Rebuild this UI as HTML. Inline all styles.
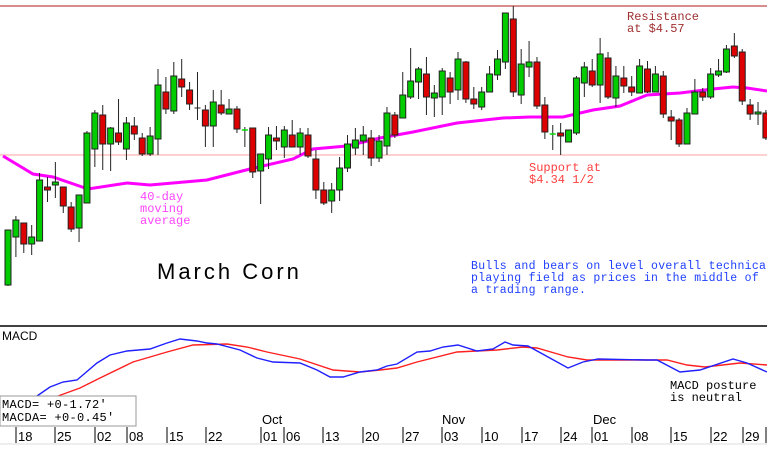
<!DOCTYPE html>
<html><head><meta charset="utf-8"><style>
html,body{margin:0;padding:0;background:#fff}
svg{display:block}
text{font-family:"Liberation Mono","DejaVu Sans Mono",monospace}
</style></head><body>
<svg id="c" width="767" height="450" xmlns="http://www.w3.org/2000/svg">
<line x1="0" y1="6" x2="767" y2="6" stroke="#c04848" stroke-width="1.3"/>
<line x1="0" y1="155" x2="767" y2="155" stroke="#ffb4b4" stroke-width="1.3"/>
<polyline fill="none" stroke="#ff00ff" stroke-width="3" points="3,156 33,174 53,177 88,189 127,183 150,185 173,183 207,180 250,169 293,159 313,149 347,146 380,138 413,132 457,123 503,118 530,117 563,117 593,110 620,106 647,95 680,93 713,89 733,87 747,88 767,91"/>
<g id="cd"></g>
<text x="627" y="20" fill="#a03030" font-size="12">Resistance</text>
<text x="627" y="32" fill="#a03030" font-size="12">at $4.57</text>
<text x="529" y="171" fill="#ff4040" font-size="12">Support at</text>
<text x="529" y="183" fill="#ff4040" font-size="12">$4.34 1/2</text>
<text x="140" y="200" fill="#ff44ff" font-size="12">40-day</text>
<text x="140" y="212" fill="#ff44ff" font-size="12">moving</text>
<text x="140" y="224" fill="#ff44ff" font-size="12">average</text>
<text x="157" y="279" fill="#000" font-size="22" letter-spacing="3" style="font-family:'Liberation Sans',sans-serif">March Corn</text>
<text x="471" y="269" fill="#2040ff" font-size="11.5" letter-spacing="0.3">Bulls and bears on level overall technical</text>
<text x="471" y="281" fill="#2040ff" font-size="11.5" letter-spacing="0.3">playing field as prices in the middle of</text>
<text x="471" y="293" fill="#2040ff" font-size="11.5" letter-spacing="0.3">a trading range.</text>
<line x1="0" y1="326" x2="767" y2="326" stroke="#000" stroke-width="1.5"/>
<text x="2" y="340" font-size="12" style="font-family:'Liberation Sans',sans-serif">MACD</text>
<polyline fill="none" stroke="#ff2020" stroke-width="1.4" points="58,396 80,388 100,378 133,362 167,352 193,345 227,344 247,347 267,352 300,359 333,370 360,372 380,370 397,368 417,362 457,352 497,350 523,347 537,348 568,357 587,360 667,360 687,365 705,367 740,363 767,365"/>
<polyline fill="none" stroke="#2020ff" stroke-width="1.4" points="37,396 50,387 63,382 77,380 97,363 110,355 127,351 150,349 167,343 180,339 197,341 207,343 217,344 240,350 257,358 273,362 300,363 317,370 330,377 343,377 360,372 377,370 387,366 397,364 417,352 430,351 443,347 458,345 477,351 493,349 505,342 513,345 528,346 568,368 583,362 598,359 647,360 657,360 680,372 700,370 733,359 747,363 767,372"/>
<text x="670" y="389" font-size="12">MACD posture</text>
<text x="670" y="401" font-size="12">is neutral</text>
<rect x="0" y="396" width="136" height="30" fill="#fff" stroke="#999" stroke-width="1"/>
<text x="2" y="408" font-size="12" letter-spacing="0.3">MACD=   +0-1.72'</text>
<text x="2" y="421" font-size="12" letter-spacing="0.3">MACDA=  +0-0.45'</text>
<text x="262" y="424" font-size="13" style="font-family:'Liberation Sans',sans-serif">Oct</text>
<text x="442" y="424" font-size="13" style="font-family:'Liberation Sans',sans-serif">Nov</text>
<text x="593" y="424" font-size="13" style="font-family:'Liberation Sans',sans-serif">Dec</text>
<line x1="0" y1="444" x2="767" y2="444" stroke="#ddd"/>
<g id="ax"></g>
</svg>
<script>
var d=[[230,285,230,286,1],[220,237,216,257,1],[223,244,223,253,0],[237,244,225,255,1],[180,241,173,241,1],[187,190,177,202,0],[182,185,162,198,1],[187,206,187,213,0],[207,229,202,232,0],[195,228,195,242,1],[133,203,131,203,1],[113,149,110,167,1],[115,144,105,170,0],[128,144,127,171,1],[133,142,99,145,0],[123,149,117,160,1],[126,134,117,140,0],[138,154,133,156,0],[136,154,127,156,1],[85,139,69,155,1],[92,109,77,114,0],[76,111,62,114,1],[79,87,59,97,0],[90,104,82,110,0],[108,108,72,120,2],[110,126,105,147,0],[102,126,90,147,1],[105,113,90,115,0],[109,114,99,114,1],[109,129,106,133,0],[130,130,127,147,3],[128,172,128,178,0],[154,171,154,204,1],[135,159,127,169,1],[138,141,126,150,0],[130,147,126,158,1],[135,147,120,147,0],[133,147,128,155,1],[135,156,128,158,0],[159,190,150,199,0],[190,203,182,205,0],[190,201,183,213,1],[168,190,157,201,1],[144,168,135,172,1],[140,148,128,155,1],[135,141,126,155,1],[138,158,130,166,0],[141,158,135,162,1],
[113,146,107,155,1],[115,135,112,138,0],[95,118,72,118,1],[81,97,48,99,1],[69,82,67,99,1],[74,97,57,115,0],[93,98,85,117,1],[71,97,68,115,1],[78,92,72,104,0],[59,90,52,100,1],[62,99,61,103,0],[99,104,87,109,0],[92,107,87,110,1],[74,92,66,92,1],[59,75,50,80,1],[13,62,13,69,1],[19,92,6,97,0],[64,95,49,104,1],[62,67,41,77,1],[62,106,57,109,0],[105,132,97,139,0],[134,134,125,150,3],[133,136,123,155,0],[130,142,130,142,1],[78,133,76,135,1],[67,83,62,97,1],[71,85,59,87,0],[54,85,38,103,1],[58,97,52,99,0],[76,98,66,107,1],[78,86,66,93,0],[87,92,76,96,0],[66,93,59,93,1],[69,92,61,93,0],[74,92,66,92,1],[76,114,71,118,0],[117,121,110,140,0],[120,144,118,147,0],[113,144,108,144,1],[92,114,79,114,1],[92,97,88,101,0],[74,97,68,99,1],[71,75,59,77,1],[49,72,45,73,1],[46,56,33,58,0],[52,101,49,105,0],[105,114,99,120,0],[112,114,102,125,1],[113,138,110,140,0]];
var s='';
d.forEach(function(c,i){var x=8+7.895*i;
s+='<line x1="'+x+'" y1="'+c[2]+'" x2="'+x+'" y2="'+c[3]+'" stroke="#222" stroke-width="1"/>';
if(c[4]==2){s+='<line x1="'+(x-3)+'" y1="'+c[0]+'" x2="'+(x+3)+'" y2="'+c[0]+'" stroke="#222"/>';}
else if(c[4]==3){s+='<line x1="'+(x-3)+'" y1="'+c[0]+'" x2="'+(x+3)+'" y2="'+c[0]+'" stroke="#00dd00" stroke-width="1.5"/>';}
else{var h=Math.max(c[1]-c[0],2);s+='<rect x="'+(x-3)+'" y="'+c[0]+'" width="6" height="'+h+'" fill="'+(c[4]?'#00cc00':'#dd0000')+'" stroke="#222" stroke-width="1"/>';}
});
document.getElementById('cd').innerHTML=s;
var t=[[16,'18'],[55,'25'],[95,'02'],[127,'08'],[167,'15'],[206,'22'],[261,'01'],[284,'06'],[323,'13'],[363,'20'],[403,'27'],[442,'03'],[482,'10'],[522,'17'],[561,'24'],[592,'01'],[632,'08'],[671,'15'],[711,'22'],[743,'29'],[766,'']];
var a='';t.forEach(function(k){a+='<line x1="'+k[0]+'" y1="427" x2="'+k[0]+'" y2="443" stroke="#000"/><text x="'+(k[0]+2)+'" y="441" font-size="13" style="font-family:\'Liberation Sans\',sans-serif">'+k[1]+'</text>';});
document.getElementById('ax').innerHTML=a;
</script>
</body></html>
